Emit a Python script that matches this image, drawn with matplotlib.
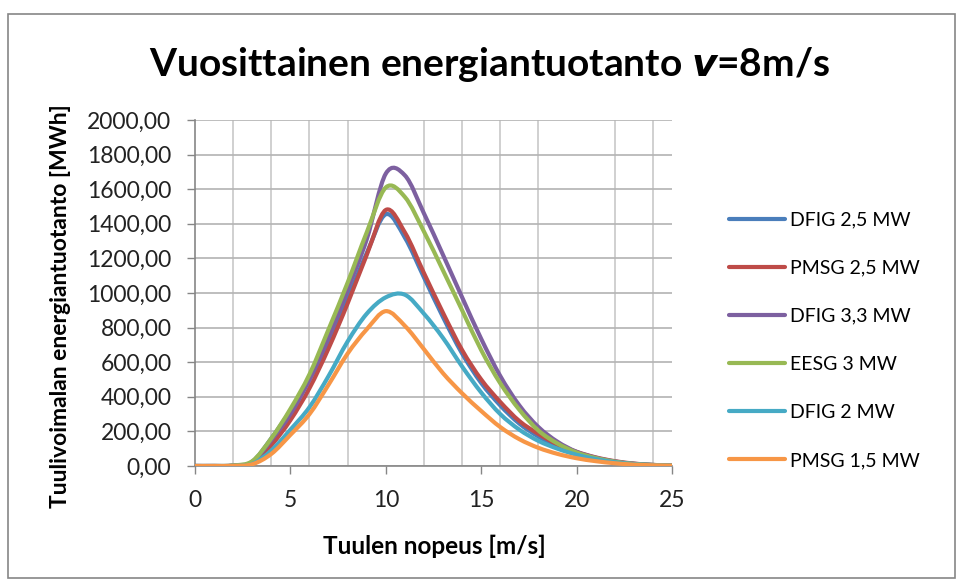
import matplotlib
matplotlib.use('Agg')
import matplotlib.pyplot as plt
import numpy as np
from matplotlib.path import Path
from matplotlib.patches import PathPatch, Rectangle
from matplotlib.lines import Line2D

plt.rcParams['font.family'] = ['Lato', 'DejaVu Sans']

# Tuulen nopeus [m/s]
speed = list(range(26))

# Vuosittainen energiantuotanto [MWh] per nopeus
dfig_25 = [0, 0, 2, 25, 160, 320, 500, 720, 970, 1230, 1455, 1320, 1090, 860, 650,
           480, 350, 245, 170, 115, 75, 45, 25, 12, 6, 2]
pmsg_25 = [0, 0, 1, 15, 120, 265, 450, 680, 940, 1220, 1480, 1350, 1115, 885, 670,
           500, 370, 260, 185, 125, 82, 50, 28, 14, 6, 2]
dfig_33 = [0, 0, 2, 22, 150, 300, 500, 740, 1020, 1310, 1690, 1680, 1460, 1220, 975,
           735, 520, 350, 225, 140, 82, 48, 26, 13, 6, 2]
eesg_3 = [0, 0, 3, 28, 160, 330, 530, 790, 1060, 1350, 1610, 1555, 1355, 1130, 900,
          670, 478, 325, 205, 130, 78, 46, 25, 12, 6, 2]
dfig_2 = [0, 0, 1, 12, 90, 210, 340, 520, 720, 880, 975, 990, 880, 740, 575,
          425, 300, 210, 145, 100, 65, 40, 22, 11, 5, 2]
pmsg_15 = [0, 0, 1, 10, 70, 180, 300, 470, 650, 790, 895, 810, 675, 536, 420,
           318, 225, 155, 105, 70, 45, 28, 16, 8, 4, 2]

labels = ['DFIG 2,5 MW', 'PMSG 2,5 MW', 'DFIG 3,3 MW', 'EESG 3 MW', 'DFIG 2 MW', 'PMSG 1,5 MW']
series = [dfig_25, pmsg_25, dfig_33, eesg_3, dfig_2, pmsg_15]
colors = ['#4A7EBB', '#BE4B48', '#7D60A0', '#98B954', '#46AAC5', '#F79646']

xticks = [0, 5, 10, 15, 20, 25]
yticks = list(range(0, 2001, 200))


def smooth_path(x, y):
    # Excel-tyylinen pehmennetty viiva (Bezier)
    x = np.asarray(x, float)
    y = np.asarray(y, float)
    n = len(x)
    verts = [(x[0], y[0])]
    codes = [Path.MOVETO]
    for i in range(n - 1):
        x0, y0 = (x[i - 1], y[i - 1]) if i > 0 else (x[i], y[i])
        x3, y3 = (x[i + 2], y[i + 2]) if i + 2 < n else (x[i + 1], y[i + 1])
        c1 = (x[i] + (x[i + 1] - x0) / 6, y[i] + (y[i + 1] - y0) / 6)
        c2 = (x[i + 1] - (x3 - x[i]) / 6, y[i + 1] - (y3 - y[i]) / 6)
        verts += [c1, c2, (x[i + 1], y[i + 1])]
        codes += [Path.CURVE4] * 3
    return Path(verts, codes)


fig = plt.figure(figsize=(9.57, 5.81), dpi=100)
fig.patches.append(Rectangle((8 / 957, 3 / 581), 947 / 957, 564 / 581, transform=fig.transFigure,
                             fill=False, edgecolor='#868686', linewidth=1.2))

ax = fig.add_axes([195 / 957, 115 / 581, 477 / 957, 346 / 581])

for s, c in zip(series, colors):
    ax.add_patch(PathPatch(smooth_path(speed, s), fill=False, edgecolor=c, linewidth=3,
                           capstyle='round', joinstyle='round', zorder=3))

ax.set_xlim(0, 25)
ax.set_ylim(0, 2000)
ax.set_xticks(xticks)
ax.set_xticks(np.arange(0, 25, 2), minor=True)
ax.set_yticks(yticks)
ax.set_yticklabels([f'{v},00' for v in yticks])
ax.tick_params(axis='x', which='minor', length=0)
ax.tick_params(axis='both', which='major', labelsize=16.5, color='#868686', length=6,
               width=1, pad=11, labelcolor='#222222')
ax.grid(True, which='major', axis='y', color='#B3B3B3', linewidth=1.2)
ax.grid(True, which='minor', axis='x', color='#C8C8C8', linewidth=1.2)
ax.set_axisbelow(True)
for side in ['top', 'right']:
    ax.spines[side].set_visible(False)
for side in ['left', 'bottom']:
    ax.spines[side].set_color('#868686')
    ax.spines[side].set_linewidth(1.2)

ax.set_xlabel('Tuulen nopeus [m/s]', fontsize=17.5, fontweight='bold', va='center')
ax.xaxis.set_label_coords((434 - 195) / 477, -(546 - 466) / 346)
ax.set_ylabel('Tuulivoimalan energiantuotanto [MWh]', fontsize=16.5, fontweight='bold', va='center')
ax.yaxis.set_label_coords((61 - 195) / 477, (466 - 306) / 346)

fig.text(489 / 957, 1 - 65 / 581, r'Vuosittainen energiantuotanto $\mathbfit{v}$=8m/s',
         ha='center', va='center', fontsize=28, fontweight='bold')

handles = [Line2D([], [], color=c, linewidth=3, solid_capstyle='round') for c in colors]
fig.legend(handles, labels, loc='upper left', bbox_to_anchor=(711 / 957, 1 - 194 / 581),
           frameon=False, fontsize=14, handlelength=2.9, handletextpad=0.25, labelspacing=1.6)

fig.savefig('out.png', dpi=100)
